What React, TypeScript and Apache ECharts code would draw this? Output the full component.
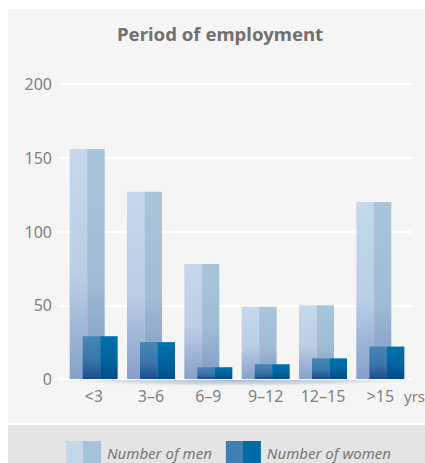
import React, { useEffect, useRef } from "react";
import * as echarts from "echarts";

const categories = ["<3", "3–6", "6–9", "9–12", "12–15", ">15"];
const menValues = [156, 127, 78, 49, 50, 120];
const womenValues = [29, 25, 8, 10, 14, 22];
const yTicks = [0, 50, 100, 150, 200];
const seriesNames = ["Number of men", "Number of women"];
const titleText = "Period of employment";
const unitText = "yrs";

const FONT = "'Noto Sans', 'Open Sans', sans-serif";

const vGrad = (top: string, mid: string, bottom: string) =>
  new echarts.graphic.LinearGradient(0, 0, 0, 1, [
    { offset: 0, color: top },
    { offset: 0.55, color: mid },
    { offset: 1, color: bottom },
  ]);

const hSplit = (left: string, right: string) =>
  new echarts.graphic.LinearGradient(0, 0, 1, 0, [
    { offset: 0, color: left },
    { offset: 0.5, color: left },
    { offset: 0.5, color: right },
    { offset: 1, color: right },
  ]);

const palettes = {
  men: {
    left: () => vGrad("#c6d8ea", "#bccde5", "#86a0c9"),
    right: () => vGrad("#a8c5db", "#a0bcd6", "#7e99c2"),
  },
  women: {
    left: () => vGrad("#4487b7", "#3a76aa", "#1d4b8b"),
    right: () => vGrad("#0071aa", "#00659f", "#004b87"),
  },
};

function makeRender(kind: "men" | "women") {
  return (params: any, api: any) => {
    const i = api.value(0);
    const v = api.value(1);
    const top = api.coord([i, v]);
    const base = api.coord([i, 0]);
    const band = api.size([1, 0])[0];
    const w = band * 0.61;
    const off = band * 0.227;
    const start = top[0] - (w + off) / 2 + (kind === "women" ? off : 0);
    const h = base[1] - top[1];
    const half = w / 2;
    const p = palettes[kind];
    return {
      type: "group",
      children: [
        {
          type: "rect",
          shape: { x: start, y: top[1], width: half, height: h },
          style: { fill: p.left() },
        },
        {
          type: "rect",
          shape: { x: start + half, y: top[1], width: w - half, height: h },
          style: { fill: p.right() },
        },
      ],
    };
  };
}

export default function App() {
  const ref = useRef<HTMLDivElement>(null);

  useEffect(() => {
    if (!ref.current) return;
    const chart = echarts.init(ref.current, undefined, { renderer: "svg" });
    const yMin = yTicks[0];
    const yMax = yTicks[yTicks.length - 1];
    const yInt = yTicks[1] - yTicks[0];

    chart.setOption({
      animation: false,
      backgroundColor: "transparent",
      title: {
        text: titleText,
        left: 117,
        top: 24,
        padding: 0,
        textStyle: {
          fontFamily: FONT,
          fontSize: 18.6,
          fontWeight: "bold",
          color: "#707070",
        },
      },
      legend: {
        left: 61,
        top: 436,
        itemWidth: 35,
        itemHeight: 23,
        itemGap: 14,
        icon: "rect",
        selectedMode: false,
        textStyle: {
          fontFamily: FONT,
          fontSize: 15,
          fontStyle: "italic",
          color: "#777777",
          padding: [0, 0, 0, 1],
        },
        data: [
          { name: seriesNames[0], itemStyle: { color: hSplit("#c5d7e9", "#a4c3d9") } },
          { name: seriesNames[1], itemStyle: { color: hSplit("#3f7fb1", "#006aa4") } },
        ],
      },
      grid: [
        { left: 58, right: 13, top: 84, bottom: 84 },
        { left: 65, right: 16, top: 84, bottom: 84 },
      ],
      xAxis: [
        {
          gridIndex: 0,
          type: "value",
          show: false,
        },
        {
          gridIndex: 1,
          type: "category",
          data: categories,
          axisTick: { show: false },
          axisLine: {
            show: true,
            lineStyle: { color: "#ffffff", width: 2 },
          },
          axisLabel: {
            interval: 0,
            margin: 9,
            fontFamily: FONT,
            fontSize: 16,
            color: "#808080",
          },
        },
      ],
      yAxis: [
        {
          gridIndex: 0,
          type: "value",
          min: yMin,
          max: yMax,
          interval: yInt,
          axisLine: { show: false },
          axisTick: { show: false },
          splitLine: { show: true, lineStyle: { color: "#ffffff", width: 2 } },
          axisLabel: {
            margin: 6,
            fontFamily: FONT,
            fontSize: 16,
            color: "#808080",
          },
        },
        {
          gridIndex: 1,
          type: "value",
          min: yMin,
          max: yMax,
          interval: yInt,
          show: false,
        },
      ],
      graphic: [
        {
          type: "rect",
          z: -1,
          shape: { x: 62, y: 380, width: 350, height: 13 },
          style: {
            fill: new echarts.graphic.RadialGradient(0.5, 0, 0.55, [
              { offset: 0, color: "rgba(70,105,160,0.45)" },
              { offset: 0.6, color: "rgba(90,120,170,0.2)" },
              { offset: 1, color: "rgba(245,245,245,0)" },
            ]),
          },
        },
        {
          type: "text",
          x: 404,
          y: 396,
          style: {
            text: unitText,
            fontFamily: FONT,
            fontSize: 15,
            fill: "#808080",
            textVerticalAlign: "middle",
          },
        },
      ],
      series: [
        {
          name: seriesNames[0],
          type: "custom",
          xAxisIndex: 1,
          yAxisIndex: 1,
          renderItem: makeRender("men"),
          encode: { x: 0, y: 1 },
          data: menValues.map((v, i) => [i, v]),
          z: 2,
        },
        {
          name: seriesNames[1],
          type: "custom",
          xAxisIndex: 1,
          yAxisIndex: 1,
          renderItem: makeRender("women"),
          encode: { x: 0, y: 1 },
          data: womenValues.map((v, i) => [i, v]),
          z: 3,
        },
      ],
    });
    return () => chart.dispose();
  }, []);

  return (
    <div
      style={{
        position: "fixed",
        left: 0,
        top: 0,
        width: 425,
        height: 463,
        background: "#ffffff",
        overflow: "hidden",
      }}
    >
      <div
        style={{
          position: "absolute",
          left: 8,
          top: 9,
          width: 417,
          height: 414,
          background: "#f5f5f5",
        }}
      />
      <div
        style={{
          position: "absolute",
          left: 8,
          top: 425,
          width: 417,
          height: 38,
          background: "#e4e4e4",
        }}
      />
      <div
        ref={ref}
        style={{ position: "absolute", left: 0, top: 0, width: 425, height: 463 }}
      />
    </div>
  );
}
